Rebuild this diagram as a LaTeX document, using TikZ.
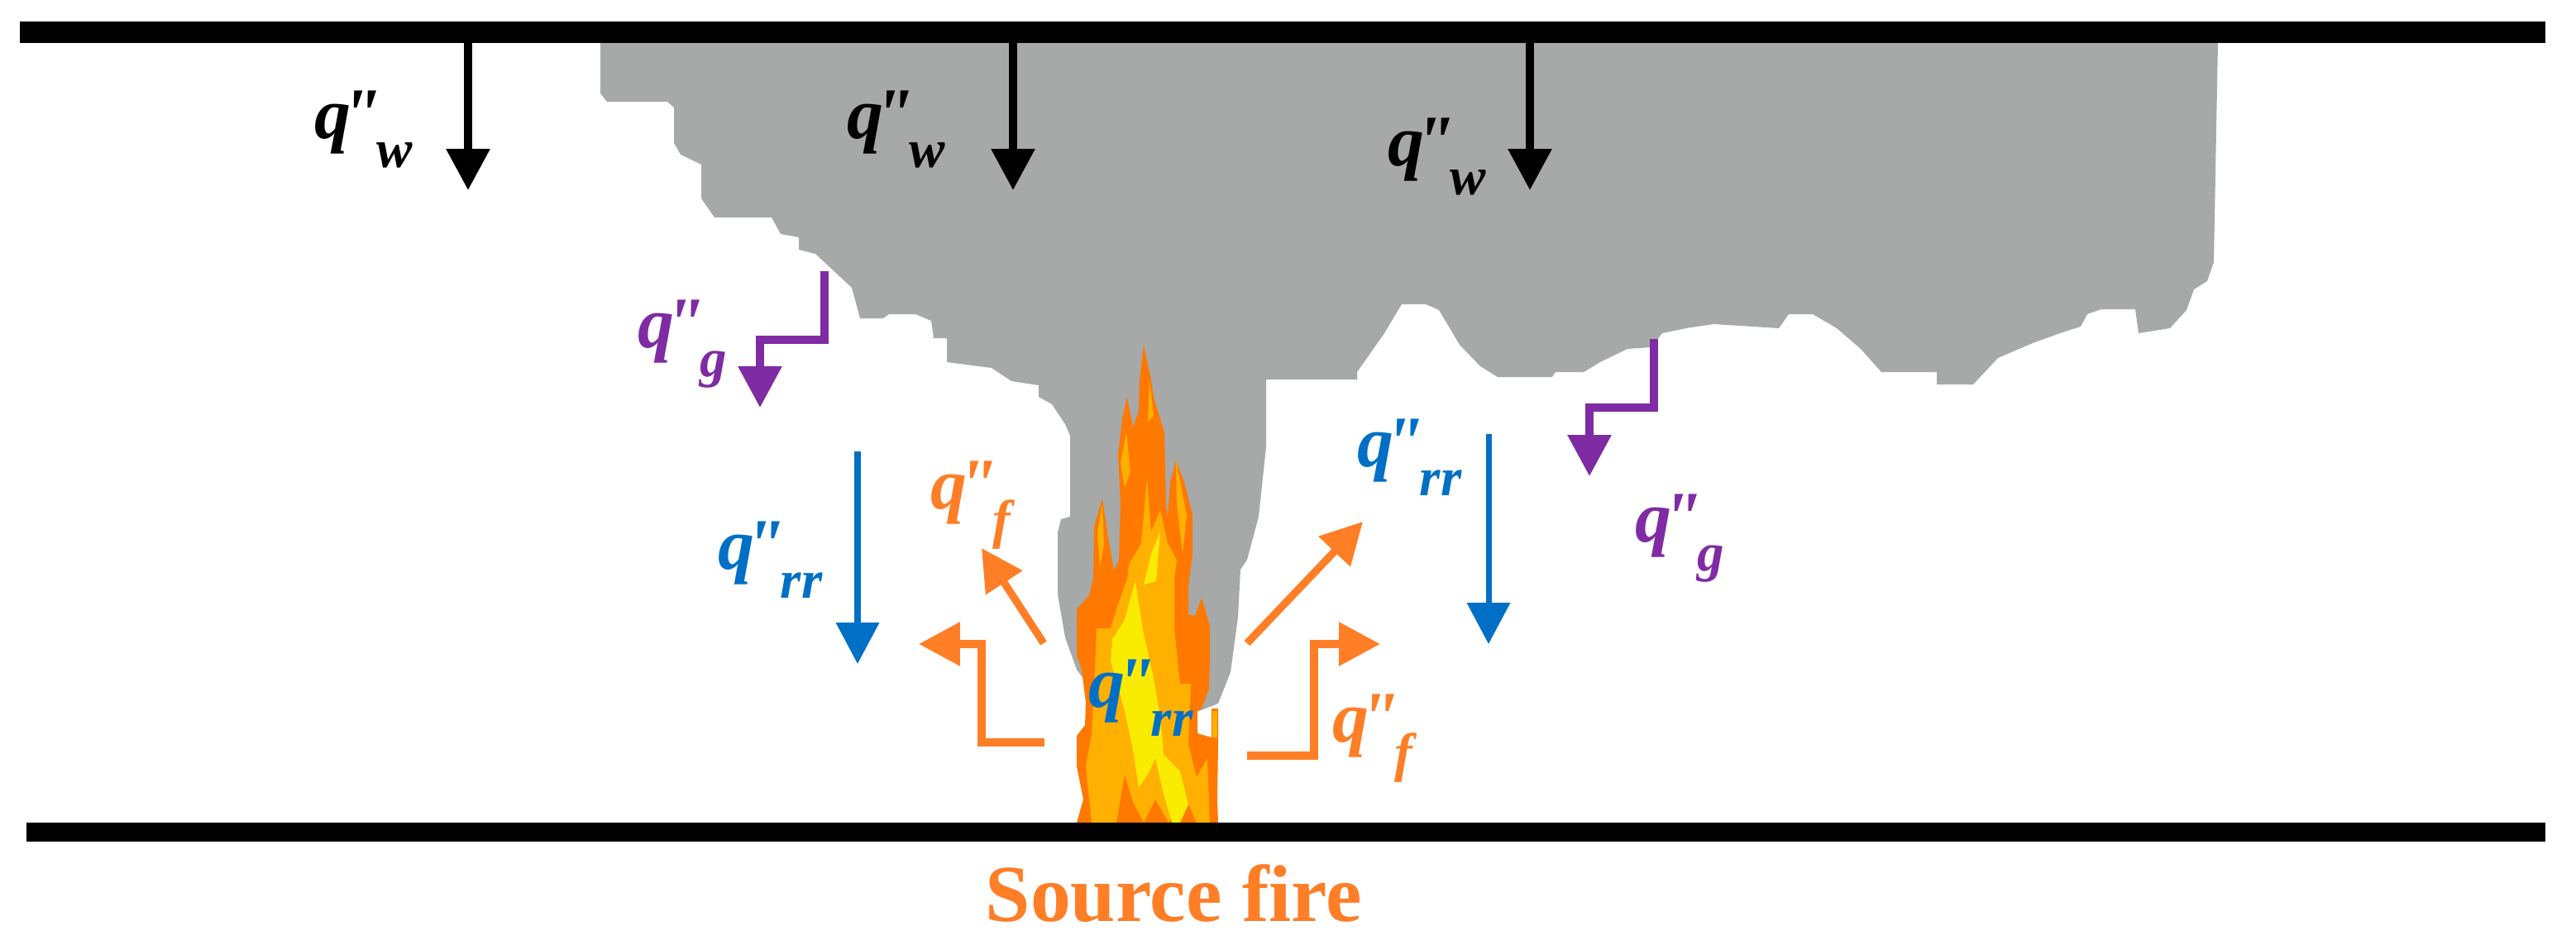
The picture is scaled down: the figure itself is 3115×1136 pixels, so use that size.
\documentclass[tikz,border=0pt]{standalone}
\usepackage{fontspec}
\setmainfont{Liberation Serif}
\newfontfamily\fluxfont{Liberation Serif}
\usepackage{tikz}
\usetikzlibrary{arrows.meta}
\definecolor{smokegray}{RGB}{167,169,169}
\definecolor{fireorange}{RGB}{255,126,38}
\definecolor{gaspurple}{RGB}{127,43,163}
\definecolor{radblue}{RGB}{0,112,198}
\definecolor{flamedark}{RGB}{255,120,0}
\definecolor{flamemid}{RGB}{255,176,0}
\definecolor{flamelight}{RGB}{250,236,0}
\newcommand{\qflux}[1]{q\kern-3.5pt"\kern-1.5pt\raisebox{-10pt}{\fontsize{18.5}{20}\selectfont #1}}
\tikzset{
  flux/.style={inner sep=0pt, anchor=base west, font=\fluxfont\fontsize{25}{28}\selectfont\bfseries\itshape},
  heat/.style={-{Triangle[length=14.2pt,width=14.5pt]}, line width=2.6pt, line join=miter},
  wall/.style={fill=black, draw=none}
}
\begin{document}
\begin{tikzpicture}[x=0.01cm,y=-0.01cm]
\useasboundingbox (0,0) rectangle (3115,1136);
% smoke layer
\fill[smokegray] (726,52)--(726,113)--(734,123)--(807,123)--(815,130)--(815,173)--(823,187)--(848,199)--(848,240)--(864,263)--(933,263)--(944,283)--(966,287)--(966,302)--(986,307)--(1030,348)--(1040,385)--(1068,385)--(1075,380)--(1107,380)--(1126,388)--(1129,409)--(1145,409)--(1145,438)--(1199,445)--(1223,461)--(1256,466)--(1256,480)--(1272,489)--(1288,513)--(1294,527)--(1294,625)--(1283,628)--(1279,644)--(1279,719)--(1288,771)--(1302,810)--(1340,860)--(1450,860)--(1473,851)--(1488,813)--(1497,747)--(1500,689)--(1508,677)--(1522,625)--(1531,541)--(1531,459)--(1641,459)--(1641,450)--(1653,433)--(1674,403)--(1695,368)--(1724,368)--(1740,375)--(1765,417)--(1790,443)--(1811,456)--(1877,456)--(1881,450)--(1915,450)--(1935,438)--(1968,422)--(1997,420)--(2010,403)--(2039,397)--(2072,392)--(2151,397)--(2163,380)--(2192,380)--(2221,397)--(2250,422)--(2275,450)--(2342,450)--(2342,465)--(2386,465)--(2416,433)--(2458,415)--(2491,403)--(2516,395)--(2524,380)--(2541,374)--(2582,374)--(2586,403)--(2624,397)--(2644,375)--(2653,350)--(2669,340)--(2677,317)--(2682,52)--cycle;
% flame
\fill[flamedark] (1383,417)--(1378,460)--(1377,497)--(1370,517)--(1363,480)--(1357,507)--(1352,550)--(1355,610)--(1353,677)--(1347,690)--(1340,650)--(1333,603)--(1323,637)--(1322,700)--(1317,720)--(1302,737)--(1302,793)--(1308,810)--(1313,850)--(1312,877)--(1302,890)--(1302,927)--(1310,967)--(1302,995)--(1473,995)--(1472,967)--(1473,900)--(1473,857)--(1465,857)--(1465,892)--(1448,887)--(1448,860)--(1453,857)--(1462,833)--(1463,800)--(1463,757)--(1453,723)--(1445,745)--(1437,743)--(1437,710)--(1442,670)--(1442,623)--(1432,583)--(1422,557)--(1415,583)--(1412,625)--(1410,610)--(1408,523)--(1395,480)--(1392,460)--cycle;
\fill[flamemid] (1320,995)--(1313,927)--(1320,887)--(1323,833)--(1326,760)--(1343,760)--(1350,737)--(1363,700)--(1365,683)--(1380,657)--(1387,577)--(1392,643)--(1403,617)--(1412,657)--(1423,677)--(1420,700)--(1420,760)--(1427,827)--(1440,827)--(1437,900)--(1447,940)--(1460,917)--(1463,995)--(1447,995)--(1433,963)--(1413,995)--(1397,967)--(1383,995)--(1370,970)--(1360,937)--(1350,995)--cycle;
\fill[flamemid] (1422,557)--(1435,623)--(1430,670)--(1423,610)--cycle;
\fill[flamemid] (1333,610)--(1335,660)--(1330,687)--(1327,643)--cycle;
\fill[flamemid] (1362,523)--(1367,570)--(1360,590)--(1355,560)--cycle;
\fill[flamemid] (1390,460)--(1395,503)--(1388,510)--cycle;
\fill[flamemid] (1466,860)--(1472,860)--(1472,892)--(1466,892)--cycle;
\fill[flamelight] (1377,730)--(1383,767)--(1395,820)--(1403,867)--(1407,913)--(1427,933)--(1437,973)--(1427,995)--(1417,995)--(1407,960)--(1397,917)--(1390,933)--(1377,953)--(1370,907)--(1360,860)--(1343,800)--(1345,773)--(1360,750)--(1367,723)--(1373,703)--cycle;
\fill[flamelight] (1403,643)--(1398,703)--(1383,707)--(1392,670)--cycle;
% walls
\fill[wall] (24,26) rectangle (3078,52);
\fill[wall] (32,995) rectangle (3078,1018);
% heat flux arrows
\coordinate (wa) at (566,52);
\coordinate (wb) at (566,230);
\coordinate (wc) at (1225,52);
\coordinate (wd) at (1225,230);
\coordinate (we) at (1850,52);
\coordinate (wf) at (1850,230);
\draw[heat,black] (wa)--(wb);
\draw[heat,black] (wc)--(wd);
\draw[heat,black] (we)--(wf);
\coordinate (ga) at (997,328);
\coordinate (gb) at (919,493);
\coordinate (gc) at (2000,410);
\coordinate (gd) at (1922,576);
\draw[heat,gaspurple] (ga)|-(919,411)--(gb);
\draw[heat,gaspurple] (gc)|-(1922,493)--(gd);
\coordinate (ra) at (1037,546);
\coordinate (rb) at (1037,803);
\coordinate (rc) at (1800,525);
\coordinate (rd) at (1800,779);
\draw[heat,radblue,line width=2pt] (ra)--(rb);
\draw[heat,radblue,line width=2pt] (rc)--(rd);
\coordinate (fa) at (1262,778);
\coordinate (fb) at (1187,663);
\coordinate (fc) at (1508,778);
\coordinate (fd) at (1648,631);
\coordinate (fe) at (1263,898);
\coordinate (ff) at (1111,779);
\coordinate (fg) at (1508,914);
\coordinate (fh) at (1669,779);
\draw[heat,fireorange] (fa)--(fb);
\draw[heat,fireorange] (fc)--(fd);
\draw[heat,fireorange] (fe)-|(1187,779)--(ff);
\draw[heat,fireorange] (fg)-|(1589,779)--(fh);
% labels
\node[flux,black] (qwa) at (380,167) {\qflux{w}};
\node[flux,black] (qwb) at (1024,167) {\qflux{w}};
\node[flux,black] (qwc) at (1678,200) {\qflux{w}};
\node[flux,gaspurple] (qga) at (771,420) {\qflux{g}};
\node[flux,gaspurple] (qgb) at (1977,655) {\qflux{g}};
\node[flux,radblue] (qra) at (868,688) {\qflux{rr}};
\node[flux,radblue] (qrb) at (1641,564) {\qflux{rr}};
\node[flux,radblue] (qrc) at (1316,855) {\qflux{rr}};
\node[flux,fireorange] (qfa) at (1125,615) {\qflux{f}};
\node[flux,fireorange] (qfb) at (1611,897) {\qflux{f}};
\node[inner sep=0pt,anchor=base west,text=fireorange,font=\fontsize{27.8}{30}\selectfont\bfseries] (src) at (1191,1114) {Source fire};
\end{tikzpicture}
\end{document}
